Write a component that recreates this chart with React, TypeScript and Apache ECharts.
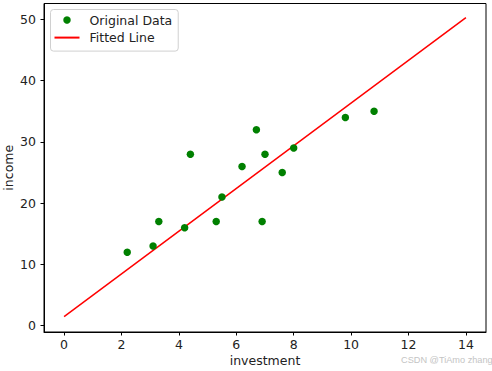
import React, { useEffect, useRef } from "react";
import * as echarts from "echarts";

const investment = [2.2, 3.1, 3.3, 4.2, 4.4, 5.3, 5.5, 6.2, 6.7, 6.9, 7.0, 7.6, 8.0, 9.8, 10.8];
const income = [12, 13, 17, 16, 28, 17, 21, 26, 32, 17, 28, 25, 29, 34, 35];
const fitX = [0, 14];
const fitY = [1.47, 50.3];
const xTicks = [0, 2, 4, 6, 8, 10, 12, 14];
const yTicks = [0, 10, 20, 30, 40, 50];

const FONT = "DejaVu Sans";

export default function App() {
  const ref = useRef<HTMLDivElement>(null);
  useEffect(() => {
    if (!ref.current) return;
    const chart = echarts.init(ref.current, undefined, { renderer: "svg" });
    const tick = { show: true, inside: false, length: 3.5, lineStyle: { color: "#000", width: 1 } };
    const line = { show: true, onZero: false, lineStyle: { color: "#000", width: 1 } };
    chart.setOption({
      animation: false,
      backgroundColor: "#fff",
      grid: {
        left: 44,
        top: 3.5,
        right: 6,
        bottom: 39,
        containLabel: false,
        outerBoundsMode: "none",
        show: true,
        borderColor: "#000",
        borderWidth: 1,
        backgroundColor: "transparent",
      },
      legend: {
        orient: "vertical",
        left: 50.5,
        top: 9.5,
        padding: [3, 6, 6, 3],
        itemWidth: 25,
        itemHeight: 7.5,
        itemGap: 2.6,
        borderColor: "#d0d0d0",
        borderWidth: 1,
        borderRadius: 3,
        backgroundColor: "rgba(255,255,255,0.8)",
        textStyle: { fontFamily: FONT, fontSize: 12.5, color: "#222", lineHeight: 15, padding: [0, 0, 0, 5] },
        data: [
          { name: "Original Data", icon: "circle" },
          { name: "Fitted Line", itemStyle: { opacity: 0 } },
        ],
      },
      xAxis: {
        type: "value",
        min: -0.7,
        max: 14.7,
        splitLine: { show: false },
        axisLine: line,
        axisTick: { ...tick, customValues: xTicks },
        axisLabel: { customValues: xTicks, margin: 6, fontFamily: FONT, fontSize: 12.5, color: "#222" },
        name: "investment",
        nameLocation: "middle",
        nameGap: 22,
        nameMoveOverlap: false,
        nameTextStyle: { fontFamily: FONT, fontSize: 12.5, color: "#222", verticalAlign: "top" },
      },
      yAxis: {
        type: "value",
        min: -1.03,
        max: 52.6,
        splitLine: { show: false },
        axisLine: line,
        axisTick: { ...tick, customValues: yTicks },
        axisLabel: { customValues: yTicks, margin: 8, fontFamily: FONT, fontSize: 12.5, color: "#222" },
        name: "income",
        nameLocation: "middle",
        nameGap: 29,
        nameMoveOverlap: false,
        nameTextStyle: { fontFamily: FONT, fontSize: 12.5, color: "#222" },
      },
      series: [
        {
          name: "Original Data",
          type: "scatter",
          symbol: "circle",
          symbolSize: 7.5,
          itemStyle: { color: "#008000", opacity: 1 },
          data: investment.map((x, i) => [x, income[i]]),
          z: 3,
        },
        {
          name: "Fitted Line",
          type: "line",
          symbol: "none",
          lineStyle: { color: "#ff0000", width: 1.5 },
          itemStyle: { color: "#ff0000" },
          data: fitX.map((x, i) => [x, fitY[i]]),
          z: 2,
        },
      ],
      graphic: [
        {
          type: "text",
          left: 401,
          top: 355,
          style: { text: "CSDN @TiAmo zhang", fontFamily: "Liberation Sans", fontSize: 9.2, fill: "#c4c4c4" },
        },
      ],
    });
    return () => chart.dispose();
  }, []);
  return (
    <div
      ref={ref}
      style={{ position: "fixed", left: 0, top: 0, width: 492, height: 371 }}
    />
  );
}
